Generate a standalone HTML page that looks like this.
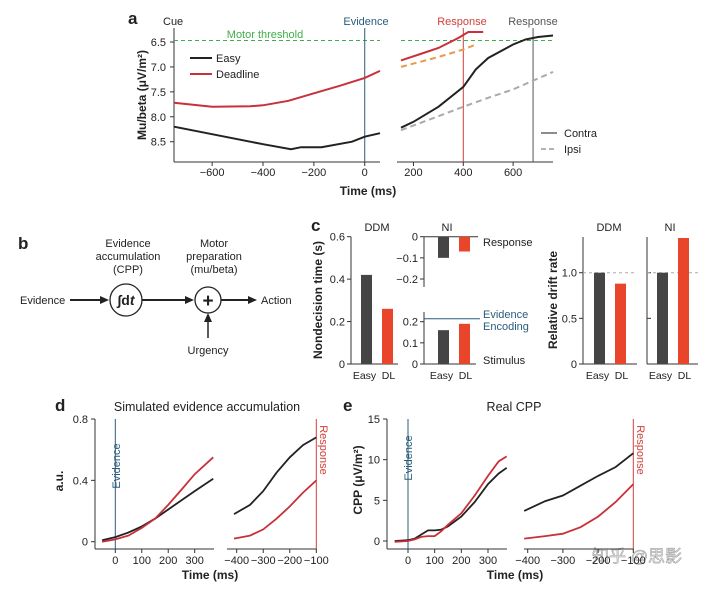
<!DOCTYPE html>
<html><head><meta charset="utf-8"><style>
body{margin:0;background:#fff}
svg text{font-family:"Liberation Sans","Noto Sans CJK SC",sans-serif;fill:#222}
.t{font-size:11px}.b{font-weight:bold;font-size:12px}.p{font-weight:bold;font-size:17px}
</style></head><body>
<svg id="fig" width="720" height="588" viewBox="0 0 720 588" xmlns="http://www.w3.org/2000/svg">
<text class="p" x="128" y="24">a</text>
<text class="t" x="163" y="25">Cue</text>
<text class="t" x="366" y="25" text-anchor="middle" style="fill:#2a5c7a">Evidence</text>
<text class="t" x="265" y="38" text-anchor="middle" style="fill:#3fae49">Motor threshold</text>
<text class="t" x="462" y="25" text-anchor="middle" style="fill:#d0403a">Response</text>
<text class="t" x="533" y="25" text-anchor="middle" style="fill:#555">Response</text>
<line x1="190" y1="58" x2="212" y2="58" stroke="#222" stroke-width="2"/>
<text class="t" x="216" y="62">Easy</text>
<line x1="190" y1="74" x2="212" y2="74" stroke="#c8303a" stroke-width="2"/>
<text class="t" x="216" y="78">Deadline</text>
<line x1="541" y1="133" x2="557" y2="133" stroke="#666" stroke-width="1.5"/>
<text class="t" x="564" y="137">Contra</text>
<line x1="541" y1="149" x2="557" y2="149" stroke="#999" stroke-width="1.5" stroke-dasharray="5,3"/>
<text class="t" x="564" y="153">Ipsi</text>
<text class="b" transform="translate(146,95) rotate(-90)" text-anchor="middle">Mu/beta (μV/m²)</text>
<text class="b" x="368" y="195" text-anchor="middle">Time (ms)</text>

<g>
<text class="p" x="18" y="249">b</text>
<text class="t" x="128" y="247" text-anchor="middle">Evidence</text>
<text class="t" x="128" y="260" text-anchor="middle">accumulation</text>
<text class="t" x="128" y="273" text-anchor="middle">(CPP)</text>
<text class="t" x="214" y="247" text-anchor="middle">Motor</text>
<text class="t" x="214" y="260" text-anchor="middle">preparation</text>
<text class="t" x="214" y="273" text-anchor="middle">(mu/beta)</text>
<text class="t" x="20" y="304">Evidence</text>
<line x1="70" y1="300" x2="102" y2="300" stroke="#222" stroke-width="2"/><polygon points="109,300 100,296 100,304" fill="#222"/>
<circle cx="126" cy="300" r="16" fill="none" stroke="#222" stroke-width="1.3"/>
<text x="126" y="305" text-anchor="middle" style="font-size:14px;font-weight:bold">∫d<tspan font-style="italic">t</tspan></text>
<line x1="142" y1="300" x2="187" y2="300" stroke="#222" stroke-width="2"/><polygon points="194,300 185,296 185,304" fill="#222"/>
<circle cx="208" cy="300" r="13" fill="none" stroke="#222" stroke-width="1.3"/>
<text x="208" y="307" text-anchor="middle" style="font-size:19px;font-weight:bold">+</text>
<line x1="221" y1="300" x2="250" y2="300" stroke="#222" stroke-width="2"/><polygon points="257,300 248,296 248,304" fill="#222"/>
<text class="t" x="261" y="304">Action</text>
<line x1="208" y1="338" x2="208" y2="320" stroke="#222" stroke-width="1.5"/><polygon points="208,313 204,322 212,322" fill="#222"/>
<text class="t" x="208" y="354" text-anchor="middle">Urgency</text>
</g>

<text class="p" x="311" y="231">c</text>
<text class="t" x="377" y="231" text-anchor="middle">DDM</text>
<text class="t" x="447" y="231" text-anchor="middle">NI</text>
<text class="t" x="609" y="231" text-anchor="middle">DDM</text>
<text class="t" x="670" y="231" text-anchor="middle">NI</text>
<text class="b" transform="translate(322,300) rotate(-90)" text-anchor="middle">Nondecision time (s)</text>
<text class="b" transform="translate(557,300) rotate(-90)" text-anchor="middle">Relative drift rate</text>
<text class="t" x="483" y="246">Response</text>
<text class="t" x="483" y="318" style="fill:#2a5c7a">Evidence</text>
<text class="t" x="483" y="330" style="fill:#2a5c7a">Encoding</text>
<text class="t" x="483" y="364">Stimulus</text>

<text class="p" x="55" y="411">d</text>
<text x="207" y="411" text-anchor="middle" style="font-size:12.5px">Simulated evidence accumulation</text>
<text class="b" transform="translate(63,481) rotate(-90)" text-anchor="middle">a.u.</text>
<text class="b" x="210" y="579" text-anchor="middle">Time (ms)</text>
<text class="p" x="343" y="411">e</text>
<text x="514" y="411" text-anchor="middle" style="font-size:12.5px">Real CPP</text>
<text class="b" transform="translate(362,480) rotate(-90)" text-anchor="middle">CPP (μV/m²)</text>
<text class="b" x="515" y="579" text-anchor="middle">Time (ms)</text>
<text x="102" y="448" class="t" transform="rotate(-90,120,448)" text-anchor="middle" style="fill:#2a5c7a">Evidence</text>
<text x="320" y="450" class="t" transform="rotate(90,320,450)" text-anchor="middle" style="fill:#d0403a">Response</text>
<text x="402" y="448" class="t" transform="rotate(-90,412,448)" text-anchor="middle" style="fill:#2a5c7a">Evidence</text>
<text x="637" y="450" class="t" transform="rotate(90,637,450)" text-anchor="middle" style="fill:#d0403a">Response</text>
<text x="592" y="562" style="font-size:17px;fill:#e4e4e4;stroke:#999;stroke-width:0.5">知乎 @思影</text>
</svg>
<script>
const aLeftT=[-750,-600,-400,-290,-250,-170,-50,0,60];
const aLeftEasy=[8.2,8.35,8.55,8.65,8.61,8.61,8.5,8.4,8.33];
const aLeftDlT=[-750,-600,-450,-400,-300,-200,-100,0,60];
const aLeftDl=[7.72,7.8,7.79,7.77,7.68,7.53,7.38,7.22,7.08];
const aRightT=[150,200,250,300,400,450,500,600,650,700,760];
const aContraEasy=[8.22,8.1,7.95,7.8,7.4,7.05,6.82,6.55,6.45,6.4,6.37];
const aIpsiT=[150,400,500,600,760];
const aIpsiEasy=[8.27,7.8,7.62,7.45,7.1];
const aDlT=[150,240,300,380,420,480];
const aContraDl=[6.87,6.72,6.62,6.42,6.3,6.3];
const aDlIpsiT=[150,300,400,450];
const aIpsiDl=[7.0,6.8,6.65,6.55];
const aYTicks=[6.5,7.0,7.5,8.0,8.5];
const aXTicksL=[-600,-400,-200,0];
const aXTicksR=[200,400,600];
const cCats=["Easy","DL"];
const cDDM=[0.42,0.26];
const cNIresp=[-0.1,-0.07];
const cNIstim=[0.16,0.19];
const cDriftDDM=[1.0,0.88];
const cDriftNI=[1.0,1.38];
const dLT=[-50,0,50,100,150,200,250,300,370];
const dLEasy=[0.01,0.03,0.06,0.1,0.15,0.21,0.27,0.33,0.41];
const dLDl=[0.0,0.015,0.04,0.09,0.15,0.24,0.34,0.44,0.55];
const dRT=[-410,-350,-300,-250,-200,-150,-100];
const dREasy=[0.18,0.24,0.33,0.45,0.55,0.63,0.68];
const dRDl=[0.02,0.04,0.08,0.15,0.23,0.32,0.40];
const eLT=[-50,0,25,50,75,100,125,150,200,250,300,340,370];
const eLEasy=[0,0.1,0.3,0.8,1.3,1.3,1.4,1.8,3.0,4.8,7.0,8.3,9.0];
const eLDl=[-0.1,0,0.2,0.5,0.6,0.6,1.2,2.0,3.4,5.6,8.0,9.8,10.4];
const eRT=[-410,-350,-300,-250,-200,-150,-100];
const eREasy=[3.7,4.9,5.6,6.8,8.0,9.1,10.8];
const eRDl=[0.3,0.6,0.9,1.7,3.0,4.8,7.0];

const S=document.getElementById('fig');
const NS='http://www.w3.org/2000/svg';
function mk(tag,at){const e=document.createElementNS(NS,tag);for(const k in at)e.setAttribute(k,at[k]);S.appendChild(e);return e;}
function lin(d0,d1,r0,r1){return v=>r0+(v-d0)/(d1-d0)*(r1-r0);}
function ln(x1,y1,x2,y2,c,w,dash){const e=mk('line',{x1,y1,x2,y2,stroke:c,'stroke-width':w||1});if(dash)e.setAttribute('stroke-dasharray',dash);return e;}
function txt(x,y,s,anchor){const e=mk('text',{x,y,'class':'t','text-anchor':anchor||'middle'});e.textContent=s;return e;}
function series(xs,ys,fx,fy,c,w,dash,name){
  const d=xs.map((t,i)=>(i?'L':'M')+fx(t).toFixed(1)+','+fy(ys[i]).toFixed(1)).join('');
  const e=mk('path',{d,fill:'none',stroke:c,'stroke-width':w});
  if(dash)e.setAttribute('stroke-dasharray',dash);
  
  
  return e;}
const RED='#c8303a',BLK='#222',BLUE='#2a5c7a';

// panel a
const ay=lin(6.5,8.5,42,141.7);
const axL=lin(-750,60,174,380), axR=lin(150,760,401,553);
const AB=162;
ln(174,28,174,AB,'#333');ln(174,AB,380,AB,'#333');ln(397,AB,553,AB,'#333');
aYTicks.forEach(v=>{ln(170,ay(v),174,ay(v),'#333');txt(166,ay(v)+4,v.toFixed(1),'end');});
aXTicksL.forEach(v=>{ln(axL(v),AB,axL(v),AB+4,'#333');txt(axL(v),176,v===0?'0':'−'+(-v));});
aXTicksR.forEach(v=>{ln(axR(v),AB,axR(v),AB+4,'#333');txt(axR(v),176,String(v));});
ln(174,ay(6.47),380,ay(6.47),'#3fae49',1,'4,3');ln(401,ay(6.47),553,ay(6.47),'#3fae49',1,'4,3');
ln(axL(0),28,axL(0),AB,BLUE,1);
ln(axR(400),28,axR(400),AB,'#d0403a',1);ln(axR(680),28,axR(680),AB,'#555',1);
series(aLeftT,aLeftEasy,axL,ay,BLK,2,null,'easy-line-cue');
series(aLeftDlT,aLeftDl,axL,ay,RED,2,null,'deadline-line-cue');
series(aIpsiT,aIpsiEasy,axR,ay,'#aaa',2,'6,4','easy-ipsi-line');
series(aRightT,aContraEasy,axR,ay,BLK,2,null,'easy-contra-line');
series(aDlIpsiT,aIpsiDl,axR,ay,'#e89a4a',2,'6,4','deadline-ipsi-line');
series(aDlT,aContraDl,axR,ay,RED,2,null,'deadline-contra-line');

// panel c
const BW=11, CB=364, LY=379;
function barsX(x0,ix){return x0+ix*21;}
function lbl(x,i,c){const e=txt(x+BW/2+(i?1:-2),LY,c);e.setAttribute('style','font-size:10.5px');}
const cy=lin(0,0.6,CB,236.7);
ln(351,236.7,351,CB,'#333');ln(351,CB,398,CB,'#333');
[0,0.2,0.4,0.6].forEach(v=>{ln(347,cy(v),351,cy(v),'#333');txt(345,cy(v)+4,v===0?'0':v.toFixed(1),'end');});
cCats.forEach((c,i)=>{const x=barsX(361,i);const r=mk('rect',{x,y:cy(cDDM[i]),width:BW,height:cy(0)-cy(cDDM[i]),fill:i?'#e8452a':'#454545'});
lbl(x,i,c);});
const cyT=lin(0,-0.2,236.7,279), cyB=lin(0,0.2,CB,321.7);
ln(424,236.7,424,287,'#333');ln(424,312,424,CB,'#333');ln(424,CB,476,CB,'#333');ln(424,236.7,478,236.7,'#333');
[0,-0.1,-0.2].forEach(v=>{ln(420,cyT(v),424,cyT(v),'#333');txt(418,cyT(v)+4,v===0?'0':'−'+(-v).toFixed(1),'end');});
[0,0.1,0.2].forEach(v=>{ln(420,cyB(v),424,cyB(v),'#333');txt(418,cyB(v)+4,v===0?'0':v.toFixed(1),'end');});
ln(424,318.7,480,318.7,BLUE,1);
cCats.forEach((c,i)=>{const x=barsX(438,i);
const r1=mk('rect',{x,y:cyT(0),width:BW,height:cyT(cNIresp[i])-cyT(0),fill:i?'#e8452a':'#454545'});

const r2=mk('rect',{x,y:cyB(cNIstim[i]),width:BW,height:cyB(0)-cyB(cNIstim[i]),fill:i?'#e8452a':'#454545'});

lbl(x,i,c);});
const dy=lin(0,1,CB,272.7);
ln(583,237,583,CB,'#333');ln(583,CB,637,CB,'#333');
ln(647,237,647,CB,'#333');ln(647,CB,698,CB,'#333');
[0,0.5,1.0].forEach(v=>{ln(579,dy(v),583,dy(v),'#333');txt(577,dy(v)+4,v===0?'0':v.toFixed(1),'end');ln(647,dy(v),651,dy(v),'#333');});
ln(583,dy(1),637,dy(1),'#aaa',1,'3,3');ln(647,dy(1),701,dy(1),'#aaa',1,'3,3');
[[594,cDriftDDM,'ddm'],[657,cDriftNI,'ni']].forEach(([x0,arr,nm])=>{
cCats.forEach((c,i)=>{const x=barsX(x0,i);const r=mk('rect',{x,y:dy(arr[i]),width:BW,height:dy(0)-dy(arr[i]),fill:i?'#e8452a':'#454545'});
lbl(x,i,c);});});

// panel d
const ddy=lin(0,0.8,541.7,419);
const dxL=lin(0,300,115.3,194.7), dxR=lin(-400,-100,236.7,316.3);
ln(95,419,95,549,'#333');ln(95,549,214,549,'#333');ln(227,549,317,549,'#333');
[0,0.4,0.8].forEach(v=>{ln(91,ddy(v),95,ddy(v),'#333');txt(88,ddy(v)+4,v===0?'0':v.toFixed(1),'end');});
[0,100,200,300].forEach(v=>{ln(dxL(v),549,dxL(v),553,'#333');txt(dxL(v),564,String(v));});
[-400,-300,-200,-100].forEach(v=>{ln(dxR(v),549,dxR(v),553,'#333');txt(dxR(v),564,'−'+(-v));});
ln(dxL(0),419,dxL(0),549,BLUE,1);ln(dxR(-100),419,dxR(-100),549,'#d0403a',1);
series(dLT,dLEasy,dxL,ddy,BLK,1.8,null,'d-easy-stim');
series(dLT,dLDl,dxL,ddy,RED,1.8,null,'d-deadline-stim');
series(dRT,dREasy,dxR,ddy,BLK,1.8,null,'d-easy-resp');
series(dRT,dRDl,dxR,ddy,RED,1.8,null,'d-deadline-resp');

// panel e
const ey=lin(0,15,541,419);
const exL=lin(0,300,408,488), exR=lin(-400,-100,527.7,633.3);
ln(387,419,387,549,'#333');ln(387,549,507,549,'#333');ln(524,549,634,549,'#333');
[0,5,10,15].forEach(v=>{ln(383,ey(v),387,ey(v),'#333');txt(380,ey(v)+4,String(v),'end');});
[0,100,200,300].forEach(v=>{ln(exL(v),549,exL(v),553,'#333');txt(exL(v),564,String(v));});
[-400,-300,-200,-100].forEach(v=>{ln(exR(v),549,exR(v),553,'#333');txt(exR(v),564,'−'+(-v));});
ln(exL(0),419,exL(0),549,BLUE,1);ln(exR(-100),419,exR(-100),549,'#d0403a',1);
series(eLT,eLEasy,exL,ey,BLK,1.8,null,'e-easy-stim');
series(eLT,eLDl,exL,ey,RED,1.8,null,'e-deadline-stim');
series(eRT,eREasy,exR,ey,BLK,1.8,null,'e-easy-resp');
series(eRT,eRDl,exR,ey,RED,1.8,null,'e-deadline-resp');
</script>
</body></html>
